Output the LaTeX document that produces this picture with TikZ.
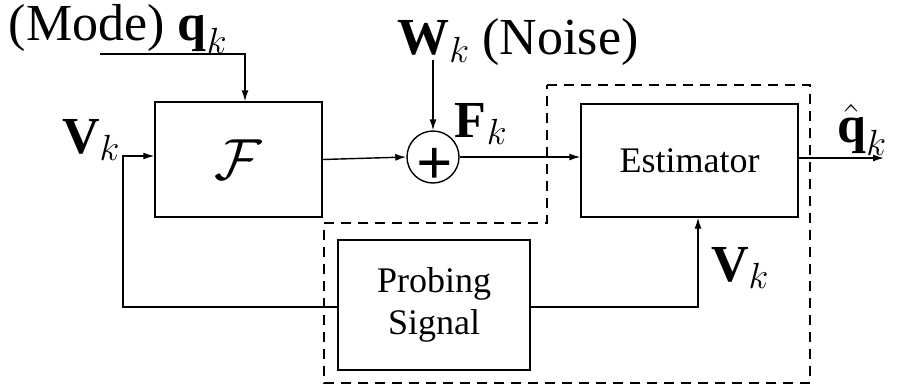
\RequirePackage{fix-cm}
\documentclass[tikz,border=0pt]{standalone}
\usepackage{amsmath,amssymb}
\usepackage{fontspec}
\setmainfont{Liberation Serif}
\usepackage{tikz}
\usetikzlibrary{arrows.meta,positioning}

\begin{document}
\begin{tikzpicture}[
    x=1pt, y=-1pt,
    block/.style={draw, line width=1.4pt, inner sep=0pt, align=center,
                  font=\fontsize{36}{40}\selectfont},
    sumnode/.style={draw, circle, line width=1.4pt, minimum size=52pt, inner sep=0pt},
    lbl/.style={inner sep=0pt, font=\fontsize{52}{56}\selectfont},
    arr/.style={-{Latex[length=11pt,width=7pt]}, line width=1.4pt},
    group/.style={draw, line width=1.4pt, dash pattern=on 10pt off 7pt}
]
\useasboundingbox (0,0) rectangle (899,391);

\node[block, minimum width=167pt, minimum height=115pt] (F) at (238.5,159.5)
    {\fontsize{58}{60}\selectfont$\mathcal{F}$};
\node[sumnode] (sum) at (433,157) {};
\node[inner sep=0pt, font=\fontsize{64}{64}\selectfont\bfseries] (plus) at (435,166) {+};
\node[block, minimum width=217pt, minimum height=113pt] (est) at (689.5,160.5) {Estimator};
\node[block, minimum width=192pt, minimum height=130pt] (probe) at (434,305)
    {Probing\\[2pt]Signal};

% labels
\node[lbl] (mode) at (118,29) {(Mode) $\textbf{q}_k$};
\node[lbl] (vin) at (91,140) {$\textbf{V}_k$};
\node[lbl] (noise) at (518,42) {$\textbf{W}_k$ (Noise)};
\node[lbl] (fk) at (481,124) {$\textbf{F}_k$};
\node[lbl] (qhat) at (862,130) {$\hat{\textbf{q}}_k$};
\node[lbl] (vout) at (740,268) {$\textbf{V}_k$};

\coordinate (modein) at (100,54);
\coordinate (wtop) at (433,60);
\coordinate (fbl) at (123,307);
\coordinate (out) at (884,158);

% dashed group (estimator + probing)
\draw[group] (547,85) -- (810,85) -- (810,383) -- (324,383) -- (324,223) -- (547,223) -- cycle;

\draw[arr] (modein) -| ([xshift=6.5pt]F.north);
\draw[arr] (wtop) -- (sum.north);
\draw[arr] (F.east) -- (sum.west);
\draw[arr] (sum.east) -- (sum.east -| est.west);
\draw[arr] (est.east |- out) -- (out);
\draw[arr] (probe.east |- 0,307) -| ([xshift=8.5pt]est.south);
\draw[arr] (probe.west |- fbl) -- (fbl) |- ([yshift=3.5pt]F.west);
\end{tikzpicture}
\end{document}
